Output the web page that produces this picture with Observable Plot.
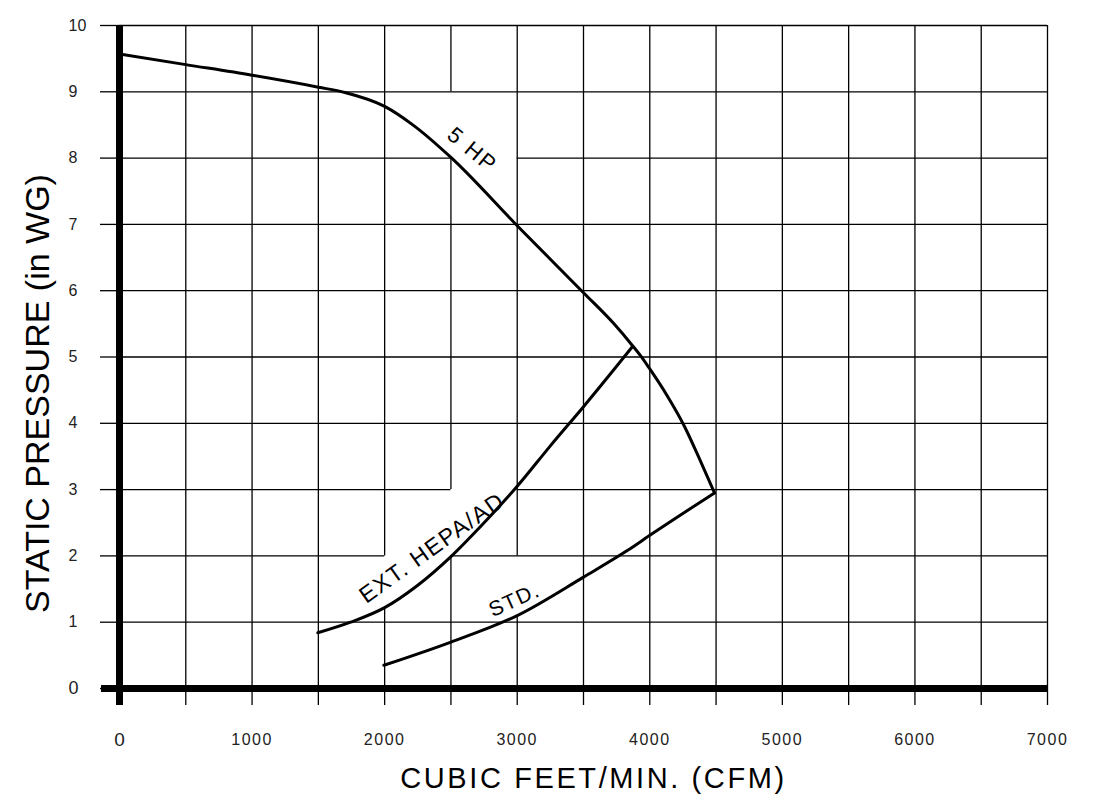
<!DOCTYPE html>
<html><head><meta charset="utf-8">
<script src="https://cdn.jsdelivr.net/npm/d3@7"></script>
<script src="https://cdn.jsdelivr.net/npm/@observablehq/plot@0.6"></script>
<style>
body{margin:0;background:#fff;}
#chart svg{display:block;}
</style></head><body><div id="chart"></div><script>
// Tick values / gridlines
const xGrid = [0,500,1000,1500,2000,2500,3000,3500,4000,4500,5000,5500,6000,6500,7000];
const xLabels = [0,1000,2000,3000,4000,5000,6000,7000];
const yGrid = [0,1,2,3,4,5,6,7,8,9,10];
// Gridline segments left blank around the curve labels
const gridGaps = [
  {dir:"x", at:2500, from:8, to:9},
  {dir:"y", at:8, from:2500, to:3000},
  {dir:"x", at:2000, from:1.2, to:2},
  {dir:"y", at:2, from:2000, to:2500},
  {dir:"x", at:2500, from:2, to:3},
  {dir:"y", at:3, from:2500, to:3000},
  {dir:"x", at:3000, from:1.10, to:2}
];
// Curves (CFM, in WG)
const hp5 = [[0,9.57],[500,9.41],[1000,9.25],[1500,9.07],[1700,8.99],[2000,8.78],[2220,8.49],[2500,8.01],[3000,6.98],[3500,5.97],[3730,5.50],[3870,5.17],[3930,5.02],[4000,4.82],[4130,4.42],[4260,3.96],[4380,3.44],[4488,2.95]];
const extHepa = [[1496,0.84],[1743,1.0],[2000,1.22],[2245,1.55],[2500,1.99],[2750,2.5],[3000,3.05],[3250,3.66],[3500,4.25],[3867,5.15]];
const std = [[1994,0.35],[2500,0.70],[3000,1.10],[3500,1.68],[3830,2.08],[4000,2.31],[4488,2.95]];
const curveLabels = [
  {text:"5 HP", x:2626, y:8.04, angle:39.8, size:22, spacing:2},
  {text:"EXT. HEPA/AD", x:2390, y:2.03, angle:-35.5, size:23, spacing:1.5},
  {text:"STD.", x:3000, y:1.24, angle:-24.3, size:21, spacing:1.5}
];
const xTitle = "CUBIC FEET/MIN. (CFM)";
const yTitle = "STATIC PRESSURE (in WG)";

function segments(dir, positions, lo, hi) {
  const out = [];
  for (const at of positions) {
    if (at === 0) continue;
    const gaps = gridGaps.filter(g => g.dir === dir && g.at === at).sort((a,b)=>a.from-b.from);
    let start = lo;
    for (const g of gaps) { out.push({at, a:start, b:g.from}); start = g.to; }
    out.push({at, a:start, b:hi});
  }
  return out;
}
const vSegs = segments("x", xGrid, 0, 10);
const hSegs = segments("y", yGrid, 0, 7000);

const font = "Liberation Sans, Arial, Helvetica, sans-serif";
const chart = Plot.plot({
  width:1094, height:803,
  marginLeft:119, marginRight:47, marginTop:25, marginBottom:115,
  x:{domain:[0,7000]}, y:{domain:[0,10]},
  style:{fontFamily:font, color:"#000", background:"#fff"},
  marks:[
    Plot.ruleX(vSegs, {x:"at", y1:"a", y2:"b", stroke:"#000", strokeWidth:1.3}),
    Plot.ruleY(hSegs, {y:"at", x1:"a", x2:"b", stroke:"#000", strokeWidth:1.3}),
    Plot.axisX({ticks:xGrid, tickSize:17, tickFormat:()=>"", stroke:"#000", strokeWidth:1.3, label:null}),
    Plot.axisY({ticks:yGrid, tickSize:19, tickFormat:()=>"", stroke:"#000", strokeWidth:1.3, label:null}),
    Plot.ruleY([0], {insetLeft:-18, stroke:"#000", strokeWidth:7}),
    Plot.ruleX([0], {insetBottom:-17, stroke:"#000", strokeWidth:7}),
    Plot.text(xLabels, {x:d=>d, y:0, dy:51, text:d=>String(d), fontSize:d=>d===0?19:16, fill:"#222", lineAnchor:"middle"}),
    Plot.text(yGrid, {x:0, y:d=>d, dx:-51, text:d=>String(d), textAnchor:"start", fontSize:d=>d===0?18:16, fill:"#222", lineAnchor:"middle"}),
    Plot.line(hp5, {x:d=>d[0], y:d=>d[1], curve:"monotone-x", stroke:"#000", strokeWidth:3}),
    Plot.line(extHepa, {x:d=>d[0], y:d=>d[1], curve:"monotone-x", stroke:"#000", strokeWidth:3}),
    Plot.line(std, {x:d=>d[0], y:d=>d[1], curve:"monotone-x", stroke:"#000", strokeWidth:3}),
    Plot.text(curveLabels, {x:"x", y:"y", text:"text", rotate:"angle", fontSize:"size", lineAnchor:"bottom", textAnchor:"middle", fill:"#000"}),
    Plot.text([xTitle], {frameAnchor:"bottom", dx:10, dy:99, lineAnchor:"bottom", textAnchor:"middle", fontSize:29, fill:"#000"}),
    Plot.text([yTitle], {frameAnchor:"left", rotate:-90, dx:-71, dy:36.5, lineAnchor:"bottom", textAnchor:"middle", fontSize:34, fill:"#000"})
  ]
});
document.getElementById("chart").appendChild(chart);
// letter spacing tweaks
const spacingByText = new Map(curveLabels.map(d => [d.text, d.spacing]));
spacingByText.set(xTitle, 2.6);
xLabels.forEach(v => { if (v !== 0) spacingByText.set(String(v), 1.5); });
d3.select(chart).selectAll("text").each(function(){
  const s = spacingByText.get(this.textContent);
  if (s != null) {
    if (!(/^\d+$/.test(this.textContent) && +this.textContent <= 10)) this.style.letterSpacing = s + "px";
  }
});
</script></body></html>
